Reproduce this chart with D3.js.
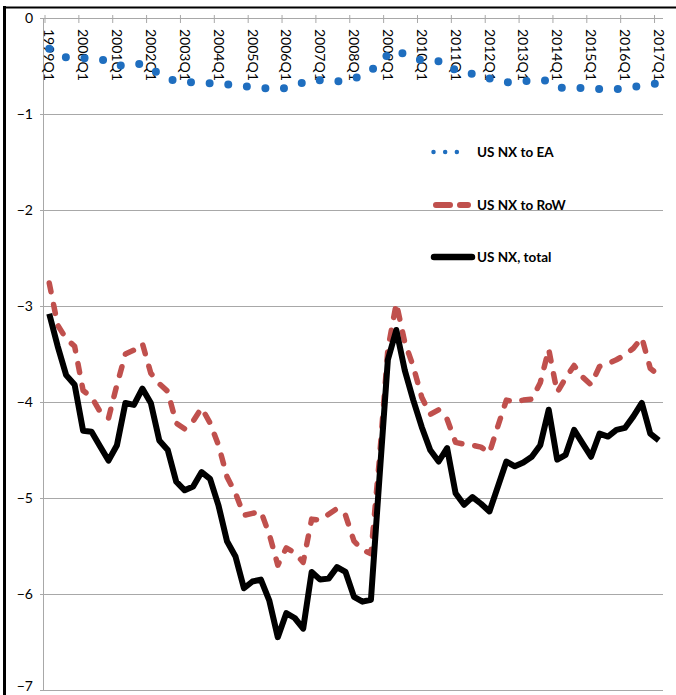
<!DOCTYPE html>
<html><head><meta charset="utf-8">
<script src="https://cdn.jsdelivr.net/npm/d3@7"></script>
<style>
html,body{margin:0;padding:0;background:#fff;}
svg{display:block;}
text{font-family:Lato,"Open Sans",sans-serif;}
</style></head>
<body>
<svg id="chart" width="676" height="695"></svg>
<script>
// ---- data ----
const years = d3.range(1999, 2018);
const quarters = years.flatMap(y => ["Q1","Q2","Q3","Q4"].map(q => y + q)).slice(0, 73);
const tickLabels = years.map(y => y + "Q1");
const yTicks = [0, -1, -2, -3, -4, -5, -6, -7];

const nxToEA = [-0.32,-0.37,-0.41,-0.42,-0.42,-0.42,-0.43,-0.45,-0.49,-0.50,
  -0.48,-0.48,-0.53,-0.58,-0.63,-0.66,-0.67,-0.67,-0.67,-0.68,
  -0.68,-0.69,-0.70,-0.71,-0.72,-0.72,-0.74,-0.74,-0.73,-0.71,
  -0.67,-0.64,-0.65,-0.66,-0.66,-0.65,-0.63,-0.60,-0.55,-0.47,
  -0.38,-0.33,-0.38,-0.41,-0.44,-0.45,-0.45,-0.46,-0.55,-0.58,
  -0.58,-0.60,-0.63,-0.66,-0.67,-0.67,-0.66,-0.65,-0.64,-0.66,
  -0.72,-0.73,-0.73,-0.73,-0.74,-0.74,-0.74,-0.74,-0.73,-0.72,
  -0.70,-0.69,-0.68];

const nxToRoW = [-2.76,-3.20,-3.34,-3.42,-3.88,-3.95,-4.10,-4.17,-3.82,-3.50,
  -3.46,-3.39,-3.70,-3.81,-3.89,-4.22,-4.28,-4.20,-4.06,-4.22,
  -4.45,-4.78,-4.95,-5.18,-5.16,-5.14,-5.38,-5.70,-5.52,-5.57,
  -5.67,-5.22,-5.23,-5.17,-5.11,-5.18,-5.45,-5.54,-5.58,-4.60,
  -3.45,-2.97,-3.38,-3.63,-3.95,-4.13,-4.08,-4.18,-4.42,-4.44,
  -4.45,-4.47,-4.53,-4.25,-3.98,-4.00,-3.98,-3.97,-3.80,-3.45,
  -3.90,-3.75,-3.62,-3.74,-3.82,-3.63,-3.60,-3.56,-3.51,-3.44,
  -3.33,-3.65,-3.72];

const nxTotal = [-3.08,-3.42,-3.72,-3.82,-4.30,-4.31,-4.46,-4.61,-4.45,-4.01,
  -4.03,-3.86,-4.01,-4.40,-4.50,-4.83,-4.92,-4.88,-4.73,-4.80,
  -5.08,-5.45,-5.61,-5.94,-5.87,-5.85,-6.07,-6.45,-6.20,-6.25,
  -6.36,-5.77,-5.85,-5.84,-5.72,-5.77,-6.03,-6.08,-6.06,-4.80,
  -3.56,-3.25,-3.67,-3.98,-4.26,-4.50,-4.62,-4.48,-4.95,-5.07,
  -4.99,-5.06,-5.14,-4.88,-4.62,-4.67,-4.63,-4.57,-4.45,-4.08,
  -4.60,-4.55,-4.29,-4.43,-4.57,-4.33,-4.36,-4.29,-4.27,-4.15,
  -4.01,-4.33,-4.40];

const seriesNames = ["US NX to EA", "US NX to RoW", "US NX, total"];
const colors = ["#1F6EBF", "#C0504D", "#000000"];

// ---- layout ----
const svg = d3.select("#chart");
const plotL = 45, plotR = 663, plotT = 18, plotB = 690;

const x = d3.scaleBand().domain(quarters).range([plotL, plotR]).paddingInner(0).paddingOuter(0);
const y = d3.scaleLinear().domain([-7, 0]).range([plotB, plotT]);
const cx = q => x(q) + x.bandwidth() / 2;

// frame lines (black border of the exhibit)
svg.append("line").attr("x1", 4.5).attr("x2", 4.5).attr("y1", 6).attr("y2", 695)
  .attr("stroke", "#000").attr("stroke-width", 3);
svg.append("line").attr("x1", 3).attr("x2", 676).attr("y1", 7.5).attr("y2", 7.5)
  .attr("stroke", "#000").attr("stroke-width", 2);

// gridlines + y labels
const yAxis = d3.axisLeft(y).tickValues(yTicks).tickSize(-(plotR - plotL) - 5).tickFormat(d3.format("d"));
svg.append("g").attr("transform", `translate(${plotL - 5},0)`).call(g => {
  g.call(yAxis);
  g.select(".domain").remove();
  g.selectAll(".tick line").attr("stroke", "#a8a8a8").attr("stroke-width", 1).attr("x1", 0);
  g.selectAll(".tick text").attr("x", -7).attr("font-size", 14).attr("fill", "#000")
    .attr("font-family", "Lato, sans-serif")
    .attr("dy", d => d === -7 ? "0.05em" : "0.32em");
});
// y axis line
svg.append("line").attr("x1", plotL - 1.5).attr("x2", plotL - 1.5).attr("y1", plotT).attr("y2", plotB)
  .attr("stroke", "#a8a8a8").attr("stroke-width", 1);

// x axis at top (y=0) with rotated labels
const tickQs = quarters.filter((q, i) => i % 4 === 0);
const xAxis = d3.axisBottom(x).tickValues(tickQs).tickSize(0).tickFormat((d, i) => tickLabels[i]);
svg.append("g").attr("transform", `translate(0,${y(0)})`).call(g => {
  g.call(xAxis);
  g.select(".domain").remove();
  g.selectAll(".tick text")
    .attr("transform", "translate(0,11) rotate(90)")
    .attr("x", 0).attr("y", 0).attr("dy", "0.35em")
    .attr("text-anchor", "start")
    .attr("font-size", 14).attr("fill", "#000")
    .attr("font-family", "Lato, sans-serif");
});
// tick marks at category boundaries
svg.append("g").selectAll("line").data(tickQs).join("line")
  .attr("x1", d => x(d)).attr("x2", d => x(d))
  .attr("y1", y(0) - 3).attr("y2", y(0) + 5)
  .attr("stroke", "#a8a8a8").attr("stroke-width", 1);

// ---- series ----
const line = d3.line().x((d, i) => cx(quarters[i])).y(d => y(d));

svg.append("path").datum(nxToRoW).attr("d", line)
  .attr("fill", "none").attr("stroke", colors[1]).attr("stroke-width", 5.5)
  .attr("stroke-dasharray", "9 13").attr("stroke-linecap", "round").attr("stroke-linejoin", "round");

svg.append("path").datum(nxTotal).attr("d", line)
  .attr("fill", "none").attr("stroke", colors[2]).attr("stroke-width", 6)
  .attr("stroke-linejoin", "round");

svg.append("path").datum(nxToEA).attr("d", line)
  .attr("fill", "none").attr("stroke", colors[0]).attr("stroke-width", 8)
  .attr("stroke-dasharray", "0 18.7").attr("stroke-linecap", "round");

// ---- legend ----
const legendY = [152, 205, 257];
const lg = svg.append("g");
lg.append("line").attr("x1", 433.5).attr("x2", 468.5).attr("y1", legendY[0]).attr("y2", legendY[0])
  .attr("stroke", colors[0]).attr("stroke-width", 4.5).attr("stroke-linecap", "round")
  .attr("stroke-dasharray", "0 11.67");
lg.append("line").attr("x1", 436).attr("x2", 468).attr("y1", legendY[1]).attr("y2", legendY[1])
  .attr("stroke", colors[1]).attr("stroke-width", 6).attr("stroke-linecap", "round")
  .attr("stroke-dasharray", "14 10");
lg.append("line").attr("x1", 434).attr("x2", 472).attr("y1", legendY[2]).attr("y2", legendY[2])
  .attr("stroke", colors[2]).attr("stroke-width", 6.5).attr("stroke-linecap", "round");

lg.selectAll("text").data(seriesNames).join("text")
  .attr("x", 477).attr("y", (d, i) => legendY[i]).attr("dy", "0.35em")
  .attr("font-size", 13.5).attr("font-weight", "bold").attr("fill", "#000")
  .text(d => d);
</script>
</body></html>
